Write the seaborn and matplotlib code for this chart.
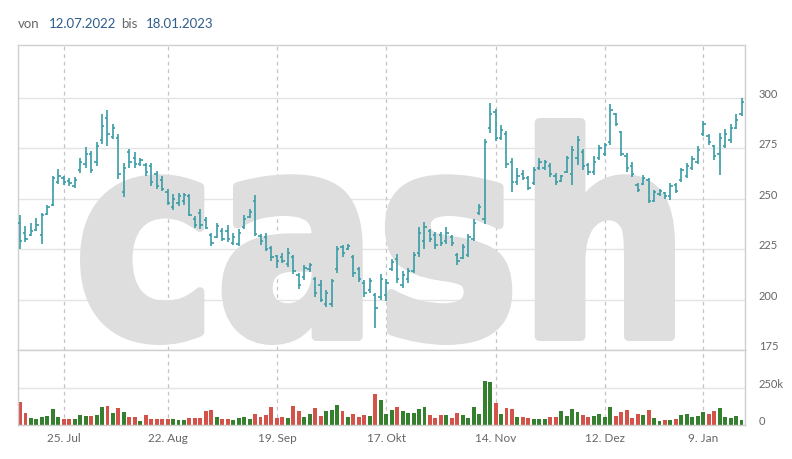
import numpy as np
import pandas as pd
import matplotlib
matplotlib.use("Agg")
import matplotlib.pyplot as plt
import seaborn as sns
from matplotlib.textpath import TextPath
from matplotlib.patches import PathPatch
from matplotlib.font_manager import FontProperties
from matplotlib.transforms import Affine2D

# ---------------- data ----------------
holidays = ["2022-08-01", "2022-12-26", "2023-01-02"]
dates = pd.bdate_range("2022-07-13", "2023-01-18")
dates = dates[~dates.isin(pd.to_datetime(holidays))]

open_ = [238, 233, 232, 234.5, 232, 242.5, 247, 258, 260, 258.5, 256, 264, 267, 272, 268, 279, 290, 280.5, 280, 253,
         273, 270, 267, 266.5, 266, 262, 259, 253, 246, 248, 249, 251, 240, 243, 239.5, 232, 231, 234, 234, 228,
         227.5, 236, 241, 249, 231.5, 231, 225.5, 221.5, 221, 217.5, 221, 212, 211, 215, 210, 207, 198, 198, 215, 226,
         225, 221, 215, 208, 204.5, 202, 201, 202, 215, 220, 207, 210, 214, 223, 229, 234, 232, 232, 229, 231,
         222, 220.5, 222, 230, 243, 240, 285, 293, 280, 282, 268, 258, 262, 260, 257.5, 265, 265, 266, 261, 258.5,
         263, 262, 270, 273, 266.5, 263, 270, 272, 278, 292, 283, 271, 266, 256.5, 257, 259, 249, 252, 252.5, 251,
         256.5, 259, 261, 265, 268, 282, 281, 276, 272, 276, 279, 285, 292]
high = [241.7, 236.2, 237.8, 240.3, 242.8, 247, 261.2, 264.5, 261.2, 260, 260.7, 270.3, 275.3, 273.7, 277.8, 292, 293.7, 287, 282, 267.8,
        274.5, 272.8, 270.3, 267.8, 267.8, 263.7, 261.2, 254.5, 252, 252.8, 252.8, 252, 241.2, 245, 241, 233, 238, 235.5, 236.7, 233,
        234.7, 241.7, 244.7, 251.7, 232.2, 232.7, 226.3, 222.2, 223, 225.5, 222.2, 213, 217.2, 218.3, 211.3, 209.7, 204.7, 210, 226.7, 227.2,
        227.7, 222.2, 216.3, 209.7, 210.5, 203.3, 212.7, 210, 220, 222.5, 214.2, 215.8, 223.3, 235.8, 238.3, 235, 233.3, 233.3, 235.8, 231.7,
        222.8, 227.5, 232.5, 240, 247.5, 279.5, 297.5, 294.5, 286.2, 283.3, 270, 265, 264.2, 261.2, 265.8, 270, 269.2, 267.5, 262.5, 261.7,
        271.2, 275.8, 280.8, 274.5, 267.8, 270.8, 276.7, 277.5, 296.7, 292.5, 283.3, 272.5, 268.3, 257.5, 261.7, 260, 254.2, 254.5, 253.3, 257.5,
        257.5, 265, 267.5, 270.8, 275.8, 288.3, 281.7, 276.7, 282.5, 284.2, 286.7, 291.7, 300]
low = [225, 228.7, 231.2, 233.7, 227.3, 241.7, 246.2, 257, 256.7, 256.2, 255, 262.8, 265.3, 262.8, 266.2, 277, 276.2, 279.5, 259.5, 250.7,
       265.3, 265.3, 266.2, 261.2, 256.2, 254.5, 253.7, 247, 244.5, 246.2, 247, 241.2, 235.3, 235, 234.7, 226.3, 230.5, 228.8, 228.3, 227.2,
       226.3, 234.7, 240.5, 231.3, 227.2, 223.8, 219.3, 215.5, 218, 216, 212.7, 205, 209.7, 213.8, 201.3, 198.8, 196.3, 196.3, 213.3, 221,
       224.7, 211.3, 208.8, 201.3, 203.3, 186, 199.7, 199.2, 214.2, 208.3, 205.8, 208.3, 213.3, 220.8, 225, 228.3, 225, 226.7, 227.5, 226.7,
       217.2, 220, 220.8, 229.2, 241.7, 237.2, 282.5, 278.3, 279.2, 265, 253.3, 256.7, 259.2, 254.2, 256.7, 264.2, 264.2, 260.8, 256.7, 258.3,
       262.5, 256.7, 266.7, 264.2, 261.7, 261.7, 269.2, 270.8, 276.7, 285.8, 270.8, 263.3, 260.8, 253.3, 256.7, 247.8, 248.3, 251.2, 250, 249.5,
       252.5, 258.3, 260, 264.2, 267.2, 280.8, 276.7, 269.2, 261.7, 275, 277.5, 284.2, 290.8]
close = [229, 230, 234, 237, 242, 246, 260, 261, 258, 257.5, 259, 268, 272, 264, 276, 286, 282, 285, 262, 265,
         268, 267, 269, 263, 258, 256, 254.5, 248, 250, 251, 251.5, 242, 237, 237, 235.5, 228, 236.5, 230, 230, 231,
         233, 240, 243.5, 232.5, 229, 225, 221, 219, 219, 223, 214, 207, 215.5, 217, 203, 200, 203, 209, 225, 223,
         226.5, 213, 210, 203, 209, 196, 210, 208, 218.5, 210, 212, 214, 222, 233, 236, 230, 227, 228, 233, 228,
         219, 226, 231, 238, 246, 278, 292, 280, 284, 267, 258, 261, 260, 255, 264, 268, 268, 262, 258, 261,
         270, 274, 279, 266, 263, 268, 275, 276.5, 294, 287, 272, 265, 262, 254, 260, 249, 253, 253.5, 251, 256,
         253.5, 264, 266, 269.5, 274, 287, 278, 271, 280, 282, 285, 289, 298]
volume_k = [157, 82, 45, 39, 54, 61, 109, 54, 41, 41, 41, 68, 61, 61, 68, 123, 129, 82, 116, 89,
            54, 54, 27, 68, 41, 41, 41, 41, 41, 34, 34, 45, 45, 48, 95, 102, 54, 41, 41, 34,
            48, 54, 41, 75, 54, 68, 123, 48, 54, 48, 129, 95, 54, 75, 116, 61, 95, 102, 136, 95,
            54, 75, 54, 68, 61, 207, 170, 75, 102, 123, 95, 82, 82, 109, 123, 68, 48, 68, 68, 48,
            82, 68, 48, 123, 75, 300, 288, 150, 75, 116, 109, 54, 54, 48, 41, 41, 41, 54, 54, 95,
            61, 109, 89, 68, 54, 61, 75, 54, 123, 61, 89, 102, 48, 75, 68, 102, 48, 27, 34, 34,
            41, 68, 75, 54, 61, 89, 75, 95, 116, 54, 48, 61, 34]

tick_dates = ["2022-07-25", "2022-08-22", "2022-09-19", "2022-10-17", "2022-11-14", "2022-12-12", "2023-01-09"]
tick_labels = ["25. Jul", "22. Aug", "19. Sep", "17. Okt", "14. Nov", "12. Dez", "9. Jan"]
price_ticks = [175, 200, 225, 250, 275, 300]
vol_ticks = [0, 250000]
vol_tick_labels = ["0", "250k"]

# ---------------- style ----------------
sns.set_theme(style="white")
plt.rcParams["font.family"] = ["Lato", "DejaVu Sans"]

W, H = 792, 459
fig = plt.figure(figsize=(W / 100, H / 100), dpi=100)
fig.patch.set_facecolor("white")

left, right = 18 / W, 745 / W
p_top, p_bot = 45 / H, 350 / H
v_top, v_bot = 350 / H, 425 / H
ax = fig.add_axes([left, 1 - p_bot, right - left, p_bot - p_top])
axv = fig.add_axes([left, 1 - v_bot, right - left, v_bot - v_top])

teal = "#3a9ca6"
green = "#34802f"
red = "#d3524a"
grid_c = "#e4e4e4"
spine_c = "#cfcfcf"
vgrid_c = "#c4c4c4"
txt_c = "#666666"
wm_c = "#dedede"

n = len(close)
x = np.arange(n)
o = np.array(open_); c = np.array(close)
tick_pos = [int(np.where(dates == pd.Timestamp(d))[0][0]) for d in tick_dates]

# watermark (heavy stretched lettering)
stroke = 9  # px
fp = FontProperties(family="DejaVu Sans", weight="bold")
tp = TextPath((0, 0), "cash", size=100, prop=fp)
bb = tp.get_extents()
half = stroke / 2
tx0, tx1 = (80 + half) / W, (675 - half) / W
ty_bot, ty_top = 1 - (345 - half) / H, 1 - (118 + half) / H
tr = Affine2D().translate(-bb.x0, -bb.y0).scale((tx1 - tx0) / bb.width, (ty_top - ty_bot) / bb.height).translate(tx0, ty_bot)
wm = PathPatch(tr.transform_path(tp), transform=fig.transFigure, facecolor=wm_c,
               edgecolor=wm_c, linewidth=stroke * 72 / 100, joinstyle="round", zorder=1)
ax.add_patch(wm)

# OHLC bars
ax.vlines(x, low, high, color=teal, lw=1.2, zorder=3)
ax.hlines(open_, x - 0.42, x, color=teal, lw=1.2, zorder=3)
ax.hlines(close, x, x + 0.42, color=teal, lw=1.2, zorder=3)

# volume
vdf = pd.DataFrame({"x": x, "vol": np.array(volume_k) * 1000.0,
                    "dir": np.where(c >= o, "up", "down")})
sns.barplot(data=vdf, x="x", y="vol", hue="dir", palette={"up": green, "down": red},
            native_scale=True, dodge=False, width=0.72, legend=False, ax=axv,
            saturation=1, zorder=2, linewidth=0)

for a in (ax, axv):
    a.set_xlim(-0.37, n - 1 + 0.64)
    a.set_xlabel(""); a.set_ylabel("")
    a.set_axisbelow(True)
    for s in a.spines.values():
        s.set_color(spine_c); s.set_linewidth(1)
    for tpos in tick_pos:
        a.axvline(tpos, color=vgrid_c, lw=0.9, ls=(0, (3, 3)), zorder=0.6)
    a.yaxis.tick_right()
    a.tick_params(axis="y", length=0, pad=10, labelsize=8, labelcolor=txt_c)

ax.set_ylim(175, 326)
ax.set_yticks(price_ticks)
ax.set_yticklabels([str(t) for t in price_ticks])
ax.set_xticks([])
for t in price_ticks[1:]:
    ax.axhline(t, color=grid_c, lw=1, zorder=0.5)

axv.set_ylim(0, 507000)
axv.set_yticks(vol_ticks)
axv.set_yticklabels(vol_tick_labels)
axv.axhline(250000, color=grid_c, lw=1, zorder=0.5)
axv.set_xticks(tick_pos)
axv.set_xticklabels(tick_labels)
axv.tick_params(axis="x", length=0, pad=6, labelsize=8.5, labelcolor=txt_c)

for a in (ax, axv):
    for lbl in a.get_yticklabels():
        lbl.set_verticalalignment("baseline")

# header
hy = 1 - 24 / H
fig.text(18 / W, hy, "von", color="#666666", fontsize=9.5, va="center")
fig.text(49 / W, hy, "12.07.2022", color="#2f5d8c", fontsize=9.5, va="center")
fig.text(121 / W, hy, "bis", color="#666666", fontsize=9.5, va="center")
fig.text(146 / W, hy, "18.01.2023", color="#2f5d8c", fontsize=9.5, va="center")

fig.savefig("out.png", dpi=100, facecolor="white")
